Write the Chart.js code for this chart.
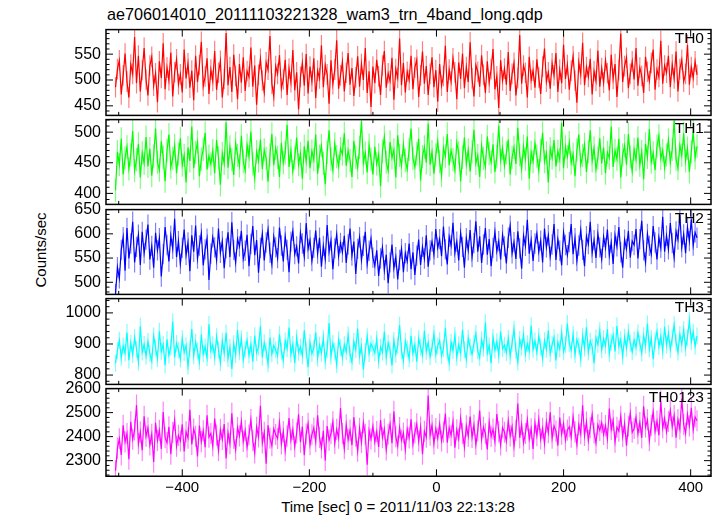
<!DOCTYPE html>
<html>
<head>
<meta charset="utf-8">
<script src="https://cdn.jsdelivr.net/npm/chart.js@4.4.0/dist/chart.umd.min.js"></script>
<style>
html, body { margin: 0; padding: 0; background: #fff; }
#quadro { position: relative; width: 717px; height: 516px; overflow: hidden; font-family: "Liberation Sans", Arial, sans-serif; }
#quadro canvas { position: absolute; left: 0; }
.texto { position: absolute; color: #000; white-space: nowrap; }
</style>
</head>
<body>
<div id="quadro">
  <div class="texto" style="left:107px; top:6px; font-size:16.2px; line-height:16px;">ae706014010_20111103221328_wam3_trn_4band_long.qdp</div>
  <div class="texto" style="left:398px; top:499px; font-size:15px; line-height:15px; transform:translateX(-50%);">Time [sec] 0 = 2011/11/03 22:13:28</div>
  <div class="texto" style="left:40px; top:250px; font-size:15px; line-height:15px; transform:translate(-50%,-50%) rotate(-90deg);">Counts/sec</div>
</div>
<script>
// tempos dos bins (sec)
const tempoInicio = -505;
const tempoPasso = 3;
const limiteX = [-520, 432];
const ticksX = [-400, -200, 0, 200, 400];

// contagens por banda (estimadas do grafico)
const valoresTH0 = [
  486, 521, 538, 472, 509, 551, 497, 466, 530, 512, 583, 494, 547, 478, 519, 562, 501,
  470, 528, 545, 489, 513, 457, 536, 504, 571, 482, 524, 499, 553, 468, 515, 540, 492,
  511, 476, 559, 503, 532, 485, 518, 461, 547, 496, 529, 574, 488, 507, 542, 473, 520,
  498, 556, 481, 514, 537, 466, 502, 591, 490, 525, 477, 549, 508, 463, 531, 495, 544,
  479, 517, 506, 563, 487, 528, 452, 510, 541, 499, 476, 534, 520, 585, 493, 468, 527,
  512, 548, 484, 501, 539, 471, 522, 496, 558, 480, 515, 443, 506, 533, 489, 550, 474,
  526, 497, 542, 465, 518, 503, 567, 486, 529, 511, 454, 538, 492, 520, 577, 483, 509,
  535, 478, 514, 552, 491, 523, 469, 505, 546, 487, 531, 500, 562, 475, 517, 448, 526,
  494, 539, 507, 471, 528, 556, 485, 513, 498, 543, 462, 521, 504, 580, 490, 533, 476,
  516, 500, 547, 482, 524, 539, 467, 509, 555, 493, 527, 471, 512, 544, 486, 519, 458,
  531, 489, 508, 566, 477, 520, 497, 542, 515, 463, 534, 502, 551, 484, 525, 496, 573,
  503, 468, 529, 516, 487, 548, 510, 475, 536, 495, 521, 560, 482, 507, 446, 538, 499,
  522, 491, 554, 479, 512, 533, 470, 504, 587, 493, 528, 514, 466, 545, 500, 518, 485,
  540, 505, 473, 526, 561, 497, 515, 483, 532, 509, 552, 477, 520, 494, 568, 502, 529,
  481, 518, 546, 499, 456, 534, 511, 572, 490, 525, 506, 541, 472, 517, 498, 557, 487,
  523, 495, 538, 513, 480, 549, 502, 531, 467, 519, 590, 496, 527, 543, 484, 512, 536,
  501, 562, 489, 524, 508, 475, 545, 516, 498, 533, 559, 481, 520, 506, 576, 493, 528,
  514, 547, 486, 530, 503, 555, 478, 521, 539, 497, 512, 568, 491, 525, 504, 536, 510
];
const valoresTH1 = [
  405, 468, 447, 489, 431, 458, 476, 440, 463, 502, 437, 455, 481, 426, 466, 449, 492,
  444, 473, 429, 461, 506, 451, 438, 485, 459, 420, 470, 496, 443, 457, 478, 433, 464,
  490, 446, 462, 418, 475, 453, 509, 441, 467, 484, 428, 456, 472, 499, 439, 461, 448,
  470, 433, 487, 458, 414, 465, 449, 516, 442, 476, 455, 430, 482, 462, 445, 494, 452,
  437, 479, 460, 501, 448, 425, 468, 453, 488, 440, 471, 457, 419, 463, 497, 446, 474,
  459, 427, 483, 450, 466, 512, 443, 470, 436, 458, 491, 447, 465, 424, 477, 452, 486,
  441, 469, 455, 496, 432, 461, 478, 449, 415, 467, 503, 456, 438, 481, 460, 444, 473,
  464, 498, 445, 470, 454, 427, 486, 459, 442, 475, 518, 450, 466, 434, 479, 456, 431,
  476, 448, 463, 412, 469, 492, 451, 437, 484, 458, 471, 426, 495, 462, 445, 480, 454,
  439, 472, 506, 457, 443, 465, 489, 421, 460, 476, 450, 514, 447, 468, 432, 463, 485,
  452, 429, 474, 461, 497, 446, 470, 455, 438, 483, 466, 420, 459, 491, 448, 471, 436,
  468, 504, 449, 462, 427, 478, 457, 443, 493, 465, 451, 480, 435, 460, 511, 454, 474,
  445, 466, 488, 431, 459, 475, 448, 507, 463, 440, 477, 456, 493, 424, 467, 452, 482,
  461, 437, 470, 499, 452, 466, 418, 473, 458, 487, 444, 469, 455, 515, 441, 476, 460,
  483, 450, 464, 428, 471, 496, 447, 462, 480, 435, 468, 503, 453, 474, 439, 458, 490,
  449, 475, 433, 467, 458, 509, 443, 470, 456, 489, 426, 463, 478, 447, 497, 460, 436,
  472, 455, 491, 446, 468, 423, 481, 459, 505, 451, 466, 438, 477, 494, 457, 470, 442,
  463, 487, 450, 472, 519, 456, 441, 479, 462, 498, 453, 474, 435, 468, 501, 458, 477
];
const valoresTH2 = [
  476, 531, 508, 567, 593, 524, 612, 549, 580, 625, 541, 573, 598, 536, 604, 560, 588,
  619, 547, 575, 530, 602, 566, 591, 512, 558, 614, 577, 543, 596, 569, 631, 552, 585,
  538, 571, 609, 556, 582, 523, 597, 563, 617, 549, 576, 601, 535, 568, 590, 505, 559,
  593, 572, 546, 611, 561, 585, 529, 570, 603, 552, 624, 567, 541, 589, 574, 606, 548,
  565, 598, 533, 579, 616, 556, 587, 520, 571, 600, 545, 582, 609, 561, 537, 594, 572,
  550, 613, 576, 543, 595, 567, 521, 584, 606, 558, 574, 539, 602, 580, 553, 622, 569,
  587, 544, 571, 607, 559, 592, 532, 575, 548, 618, 563, 586, 527, 570, 599, 554, 581,
  562, 596, 540, 578, 611, 555, 584, 517, 569, 593, 546, 575, 604, 538, 565, 590, 551,
  534, 566, 513, 549, 572, 525, 557, 498, 541, 578, 529, 552, 506, 546, 569, 521, 560,
  543, 580, 527, 562, 515, 555, 588, 536, 573, 549, 597, 532, 566, 584, 557, 610, 571,
  589, 554, 615, 568, 537, 594, 576, 623, 561, 584, 545, 602, 573, 530, 591, 566, 608,
  552, 581, 626, 563, 595, 540, 578, 612, 557, 589, 533, 571, 604, 564, 585, 547, 598,
  574, 539, 592, 617, 560, 583, 548, 605, 570, 528, 596, 575, 629, 559, 587, 544, 580,
  601, 563, 586, 541, 611, 572, 597, 553, 578, 620, 546, 589, 565, 535, 603, 577, 556,
  583, 620, 558, 591, 544, 576, 608, 567, 533, 595, 579, 625, 561, 587, 550, 600, 572,
  548, 594, 571, 609, 556, 582, 538, 597, 574, 614, 562, 530, 588, 569, 606, 551, 585,
  577, 610, 549, 589, 627, 566, 541, 600, 575, 558, 616, 582, 547, 593, 571, 635, 563,
  596, 568, 622, 581, 551, 605, 588, 639, 572, 599, 560, 614, 585, 630, 576, 603, 592
];
const valoresTH3 = [
  838, 879, 912, 856, 894, 871, 937, 848, 903, 866, 921, 883, 842, 957, 874, 899, 861,
  908, 869, 845, 926, 887, 853, 941, 876, 898, 832, 915, 864, 889, 972, 857, 902, 880,
  851, 917, 873, 895, 829, 884, 948, 862, 906, 877, 843, 930, 868, 891, 855, 963, 879,
  897, 858, 924, 881, 840, 909, 871, 936, 853, 889, 820, 901, 866, 945, 875, 917, 849,
  883, 912, 864, 899, 843, 927, 872, 890, 958, 857, 904, 878, 836, 921, 868, 895, 881,
  862, 931, 876, 848, 910, 885, 953, 867, 899, 838, 920, 873, 891, 862, 944, 880, 825,
  905, 869, 887, 937, 854, 896, 871, 919, 845, 883, 967, 860, 902, 877, 834, 914, 888,
  856, 898, 875, 929, 866, 842, 908, 882, 950, 861, 893, 818, 876, 924, 869, 901, 887,
  872, 916, 847, 890, 874, 939, 858, 903, 881, 831, 912, 867, 895, 961, 878, 846, 909,
  884, 852, 926, 870, 898, 843, 917, 889, 864, 942, 876, 905, 859, 888, 933, 866, 894,
  911, 863, 885, 952, 873, 840, 906, 879, 928, 857, 897, 871, 946, 882, 850, 919, 890,
  867, 902, 934, 878, 856, 913, 886, 969, 871, 894, 838, 921, 880, 907, 864, 940, 885,
  896, 872, 918, 861, 903, 948, 879, 842, 915, 889, 930, 868, 901, 877, 959, 883, 910,
  873, 925, 890, 854, 911, 882, 943, 869, 898, 921, 847, 906, 884, 936, 875, 897, 966,
  902, 880, 931, 866, 914, 893, 852, 925, 887, 954, 874, 909, 891, 838, 920, 899, 943,
  881, 917, 895, 947, 869, 905, 928, 876, 958, 893, 914, 860, 922, 886, 939, 902, 875,
  913, 889, 936, 903, 871, 927, 896, 965, 884, 918, 851, 910, 941, 892, 924, 878, 955,
  897, 934, 882, 919, 962, 905, 874, 931, 899, 946, 887, 921, 975, 908, 938, 893, 926
];
const valoresTH0123 = [
  2258, 2352, 2391, 2324, 2447, 2378, 2413, 2306, 2462, 2389, 2428, 2531, 2371, 2419, 2343, 2485, 2402,
  2437, 2365, 2410, 2294, 2458, 2384, 2426, 2349, 2502, 2396, 2375, 2441, 2327, 2417, 2468, 2360, 2405,
  2382, 2451, 2338, 2420, 2394, 2512, 2367, 2432, 2401, 2317, 2446, 2379, 2424, 2356, 2489, 2398, 2413,
  2361, 2475, 2406, 2342, 2429, 2388, 2452, 2309, 2416, 2371, 2497, 2392, 2345, 2438, 2403, 2463, 2380,
  2425, 2356, 2407, 2471, 2384, 2332, 2439, 2399, 2528, 2374, 2418, 2287, 2447, 2393, 2362, 2433, 2409,
  2392, 2459, 2370, 2421, 2341, 2403, 2477, 2386, 2430, 2358, 2415, 2493, 2377, 2442, 2323, 2411, 2455,
  2366, 2408, 2436, 2379, 2489, 2397, 2353, 2424, 2301, 2444, 2385, 2412, 2462, 2372, 2430, 2394, 2519,
  2413, 2350, 2449, 2388, 2427, 2364, 2481, 2402, 2339, 2435, 2376, 2458, 2410, 2283, 2426, 2390, 2444,
  2378, 2421, 2357, 2469, 2396, 2432, 2345, 2410, 2453, 2373, 2505, 2400, 2361, 2438, 2385, 2415, 2346,
  2431, 2395, 2472, 2368, 2416, 2453, 2381, 2440, 2327, 2422, 2398, 2571, 2406, 2448, 2370, 2434, 2393,
  2452, 2382, 2419, 2496, 2375, 2437, 2405, 2463, 2354, 2428, 2391, 2476, 2413, 2357, 2445, 2402, 2484,
  2397, 2448, 2367, 2424, 2509, 2388, 2439, 2412, 2347, 2460, 2401, 2431, 2379, 2494, 2420, 2365, 2437,
  2418, 2381, 2466, 2403, 2442, 2359, 2426, 2538, 2395, 2451, 2374, 2413, 2470, 2389, 2433, 2349, 2457,
  2404, 2472, 2390, 2435, 2371, 2460, 2416, 2501, 2393, 2445, 2423, 2362, 2479, 2410, 2454, 2386, 2427,
  2441, 2398, 2483, 2420, 2367, 2450, 2412, 2530, 2405, 2461, 2384, 2437, 2492, 2415, 2373, 2449, 2426,
  2458, 2409, 2446, 2391, 2517, 2430, 2468, 2377, 2439, 2423, 2485, 2401, 2455, 2362, 2443, 2498, 2418,
  2434, 2481, 2412, 2459, 2395, 2526, 2440, 2470, 2383, 2447, 2504, 2421, 2465, 2406, 2548, 2437, 2476,
  2419, 2463, 2509, 2441, 2488, 2396, 2471, 2432, 2559, 2451, 2414, 2493, 2445, 2520, 2428, 2482, 2466
];

const nomesPaineis = ['TH0', 'TH1', 'TH2', 'TH3', 'TH0123'];
const limitesY = [[431.5, 597.5], [382, 520.5], [475, 650], [770, 1046], [2235, 2600]];
const ticksY = [[450, 500, 550], [400, 450, 500], [500, 550, 600, 650], [800, 900, 1000], [2300, 2400, 2500, 2600]];
const passoMenorY = [10, 10, 10, 20, 20];
const meiaBarraErro = [20, 19, 21, 27, 44];

// estilo
const coresLinha = ['#ff0000', '#00ff00', '#0000ff', '#00ffff', '#ff00ff'];
const coresErro = ['rgba(255,0,0,0.5)', 'rgba(0,255,0,0.5)', 'rgba(0,0,255,0.5)', 'rgba(0,255,255,0.5)', 'rgba(255,0,255,0.5)'];
const series = [valoresTH0, valoresTH1, valoresTH2, valoresTH3, valoresTH0123];

// geometria dos paineis
const topoPaineis = 27.5;
const alturaPainel = 89.75;
const larguraEixoY = 106;
const margemDireita = 6;
const alturaTotal = 516;

Chart.defaults.font.family = "'Liberation Sans', Arial, sans-serif";
Chart.defaults.color = '#000';

// barras de erro verticais (cor mais clara)
const barrasErro = {
  id: 'barrasErro',
  beforeDatasetsDraw(chart, args, opts) {
    const { ctx, chartArea: a, scales: { x, y } } = chart;
    ctx.save();
    ctx.beginPath();
    ctx.rect(a.left, a.top, a.right - a.left, a.bottom - a.top);
    ctx.clip();
    ctx.strokeStyle = opts.cor;
    ctx.lineWidth = 1.2;
    ctx.beginPath();
    chart.data.datasets[0].data.forEach(p => {
      const px = x.getPixelForValue(p.x);
      ctx.moveTo(px, y.getPixelForValue(p.y + opts.erro));
      ctx.lineTo(px, y.getPixelForValue(p.y - opts.erro));
    });
    ctx.stroke();
    ctx.restore();
  }
};

// moldura com ticks para dentro, estilo qdp
const molduraQdp = {
  id: 'molduraQdp',
  afterDraw(chart, args, opts) {
    const { ctx, chartArea: a, scales: { x, y } } = chart;
    ctx.save();
    ctx.strokeStyle = '#000';
    ctx.lineWidth = 1;
    ctx.beginPath();
    for (let v = -500; v <= limiteX[1]; v += 100) {
      const px = x.getPixelForValue(v);
      const len = v % 200 === 0 ? 7 : 3.5;
      ctx.moveTo(px, a.bottom); ctx.lineTo(px, a.bottom - len);
      ctx.moveTo(px, a.top); ctx.lineTo(px, a.top + len);
    }
    const passo = opts.passoMenor;
    for (let v = Math.ceil(y.min / passo) * passo; v <= y.max; v += passo) {
      const py = y.getPixelForValue(v);
      const len = opts.maiores.includes(v) || (passo === 10 && v % 50 === 0) ? 7 : 3.5;
      ctx.moveTo(a.left, py); ctx.lineTo(a.left + len, py);
      ctx.moveTo(a.right, py); ctx.lineTo(a.right - len, py);
    }
    ctx.stroke();
    ctx.lineWidth = 1.5;
    ctx.strokeRect(a.left, a.top, a.right - a.left, a.bottom - a.top);
    ctx.restore();
  }
};

const quadro = document.getElementById('quadro');

series.forEach((valores, i) => {
  const ultimo = i === series.length - 1;
  const topo = topoPaineis + i * alturaPainel;
  const base = topo + alturaPainel;
  const canvasTopo = Math.floor(topo) - 12;
  const canvasBase = ultimo ? alturaTotal : Math.ceil(base) + 12;

  const canvas = document.createElement('canvas');
  canvas.width = 717;
  canvas.height = canvasBase - canvasTopo;
  canvas.style.top = canvasTopo + 'px';
  quadro.appendChild(canvas);

  // rotulo da banda
  const rotulo = document.createElement('div');
  rotulo.className = 'texto';
  rotulo.style.cssText = `right:13px; top:${topo + 2.5}px; font-size:15.5px; line-height:15.5px;`;
  rotulo.textContent = nomesPaineis[i];
  quadro.appendChild(rotulo);

  const pontos = valores.map((v, k) => ({ x: tempoInicio + k * tempoPasso, y: v }));

  new Chart(canvas.getContext('2d'), {
    type: 'line',
    data: {
      datasets: [{
        data: pontos,
        borderColor: coresLinha[i],
        borderWidth: 1.2,
        pointRadius: 0,
        tension: 0,
        fill: false
      }]
    },
    options: {
      responsive: false,
      animation: false,
      devicePixelRatio: 1,
      events: [],
      layout: {
        padding: {
          left: 0,
          right: margemDireita,
          top: topo - canvasTopo,
          bottom: ultimo ? 0 : canvasBase - base
        }
      },
      plugins: {
        legend: { display: false },
        tooltip: { enabled: false },
        barrasErro: { erro: meiaBarraErro[i], cor: coresErro[i] },
        molduraQdp: { passoMenor: passoMenorY[i], maiores: ticksY[i] }
      },
      scales: {
        x: {
          type: 'linear',
          min: limiteX[0],
          max: limiteX[1],
          display: ultimo,
          grid: { display: false, drawTicks: false },
          border: { display: false },
          ticks: {
            padding: 3,
            font: { size: 15 },
            maxRotation: 0,
            callback: v => String(v).replace('-', '\u2212')
          },
          afterBuildTicks: s => { s.ticks = ticksX.map(v => ({ value: v })); },
          afterFit: s => { if (ultimo) s.height = alturaTotal - base; }
        },
        y: {
          type: 'linear',
          min: limitesY[i][0],
          max: limitesY[i][1],
          grid: { display: false, drawTicks: false },
          border: { display: false },
          ticks: {
            padding: 5,
            font: { size: 16 },
            callback: v => String(v)
          },
          afterBuildTicks: s => { s.ticks = ticksY[i].map(v => ({ value: v })); },
          afterFit: s => { s.width = larguraEixoY; }
        }
      }
    },
    plugins: [barrasErro, molduraQdp]
  });
});
</script>
</body>
</html>
